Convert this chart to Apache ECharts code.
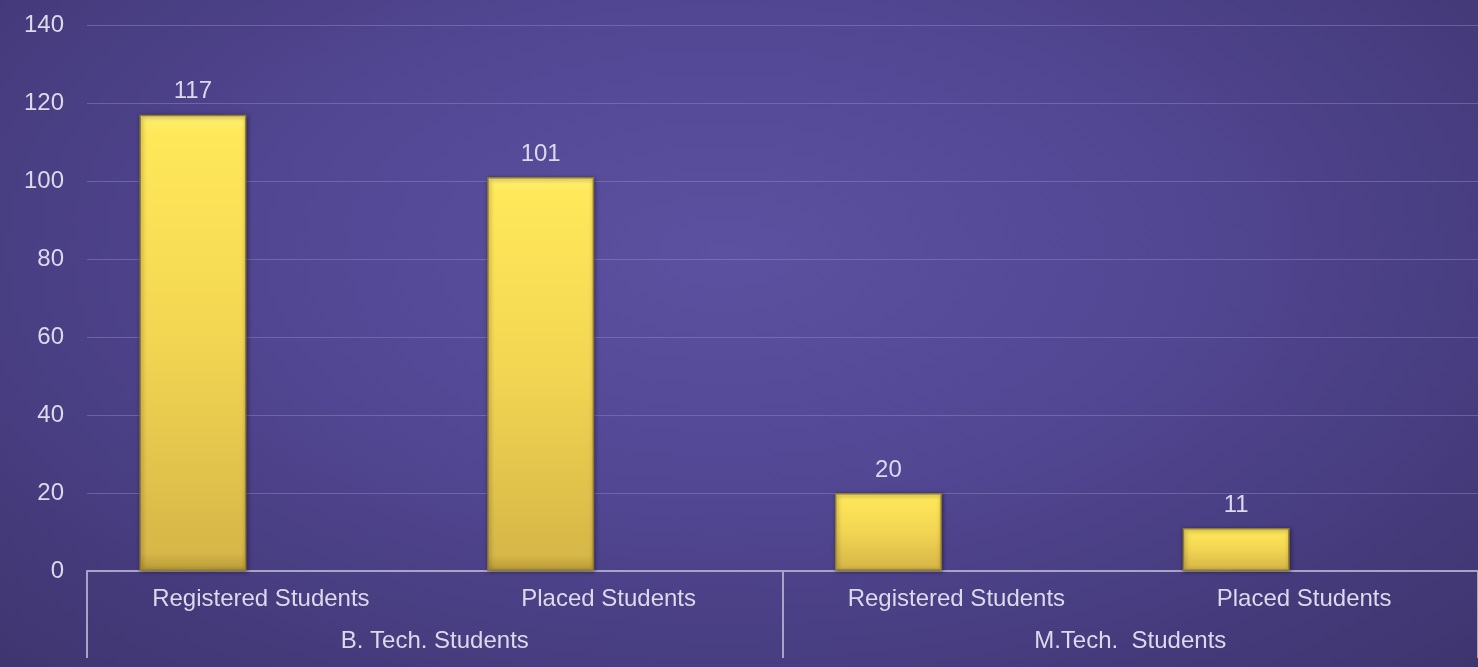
<!DOCTYPE html>
<html>
<head>
<meta charset="utf-8">
<script src="https://cdn.jsdelivr.net/npm/echarts@6/dist/echarts.min.js"></script>
<style>
html,body{margin:0;padding:0;width:1478px;height:667px;overflow:hidden;}
#c{width:1478px;height:667px;background:radial-gradient(ellipse 75% 90% at 49% 38%, #5c51a0 0%, #524793 40%, #453b7c 75%, #3d346d 100%);}
</style>
</head>
<body>
<div id="c"></div>
<script>
var subCategories = ['Registered Students', 'Placed Students', 'Registered Students', 'Placed Students'];
var groupCategories = ['B. Tech. Students', 'M.Tech.  Students'];
var studentCounts = [117, 101, 20, 11];
var placeholderSeries = [null, null, null, null];
var yTicks = {min: 0, max: 140, interval: 20};

var chart = echarts.init(document.getElementById('c'), null, {renderer: 'canvas'});
var textColor = '#dcdaea';
var font = 'Liberation Sans, Arial, sans-serif';
chart.setOption({
  backgroundColor: 'transparent',
  animation: false,
  grid: {left: 87, right: -2, top: 25, bottom: 96, containLabel: false},
  xAxis: [{
    type: 'category',
    data: subCategories,
    position: 'bottom',
    axisLine: {show: true, lineStyle: {color: '#a9a3c6', width: 2}},
    axisTick: {show: false},
    axisLabel: {color: textColor, fontSize: 24, fontFamily: font, margin: 16, interval: 0}
  }, {
    type: 'category',
    data: groupCategories,
    position: 'bottom',
    axisLine: {show: false},
    axisTick: {show: true, length: 87, lineStyle: {color: '#a9a3c6', width: 2}},
    axisLabel: {color: textColor, fontSize: 24, fontFamily: font, margin: 58, interval: 0},
    splitLine: {show: false}
  }],
  yAxis: {
    type: 'value',
    min: yTicks.min, max: yTicks.max, interval: yTicks.interval,
    axisLine: {show: false},
    axisTick: {show: false},
    axisLabel: {color: textColor, fontSize: 24, fontFamily: font, margin: 23},
    splitLine: {lineStyle: {color: 'rgba(150,140,200,0.45)', width: 1}}
  },
  series: [{
    type: 'bar',
    data: studentCounts,
    barWidth: 107,
    barGap: '27%',
    itemStyle: {
      color: new echarts.graphic.LinearGradient(0, 0, 0, 1, [
        {offset: 0, color: '#fff070'},
        {offset: 0.04, color: '#ffe85a'},
        {offset: 0.5, color: '#f2d552'},
        {offset: 0.96, color: '#d6b748'},
        {offset: 1, color: '#b89a38'}
      ]),
      borderColor: '#8f7b2c',
      borderWidth: 1.5,
      shadowColor: 'rgba(20,10,40,0.5)',
      shadowBlur: 4,
      shadowOffsetX: 1,
      shadowOffsetY: 1
    },
    label: {show: true, position: 'top', distance: 11, color: textColor, fontSize: 24, fontFamily: font}
  }, {
    type: 'bar',
    data: placeholderSeries,
    barWidth: 107
  }]
});
</script>
</body>
</html>
